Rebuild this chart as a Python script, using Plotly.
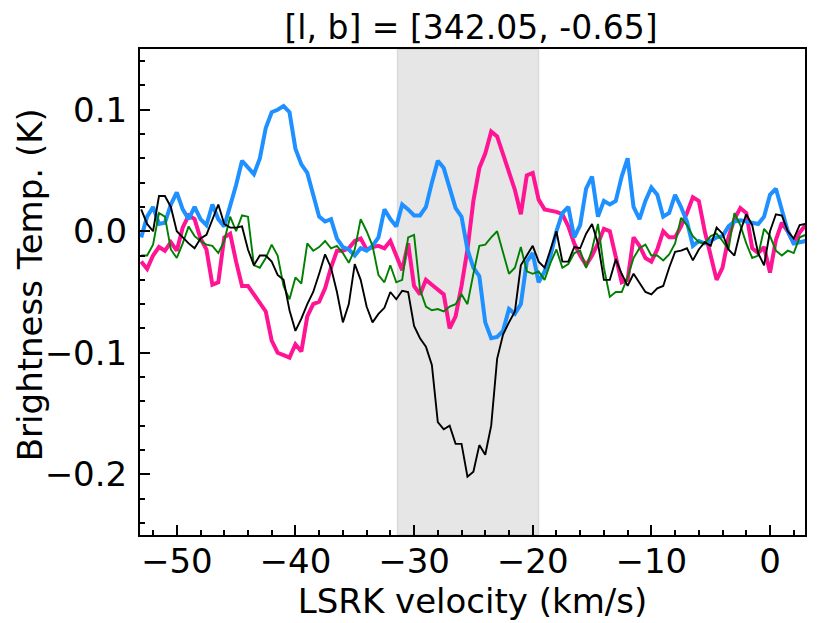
import plotly.graph_objects as go

velocity = [
    -53.0, -52.5, -52.0, -51.5, -51.0, -50.5, -50.0, -49.5, -49.0, -48.5,
    -48.0, -47.5, -47.0, -46.5, -46.0, -45.5, -45.0, -44.5, -44.0, -43.5,
    -43.0, -42.5, -42.0, -41.5, -41.0, -40.5, -40.0, -39.5, -39.0, -38.5,
    -38.0, -37.5, -37.0, -36.5, -36.0, -35.5, -35.0, -34.5, -34.0, -33.5,
    -33.0, -32.5, -32.0, -31.5, -31.0, -30.5, -30.0, -29.5, -29.0, -28.5,
    -28.0, -27.5, -27.0, -26.5, -26.0, -25.5, -25.0, -24.5, -24.0, -23.5,
    -23.0, -22.5, -22.0, -21.5, -21.0, -20.5, -20.0, -19.5, -19.0, -18.5,
    -18.0, -17.5, -17.0, -16.5, -16.0, -15.5, -15.0, -14.5, -14.0, -13.5,
    -13.0, -12.5, -12.0, -11.5, -11.0, -10.5, -10.0, -9.5, -9.0, -8.5,
    -8.0, -7.5, -7.0, -6.5, -6.0, -5.5, -5.0, -4.5, -4.0, -3.5,
    -3.0, -2.5, -2.0, -1.5, -1.0, -0.5, 0.0, 0.5, 1.0, 1.5, 2.0, 2.5, 3.0,
]

blue_temp = [
    -0.005, 0.012, 0.020, 0.006, 0.007, 0.022, 0.032, 0.018, 0.010, 0.020,
    0.010, 0.005, 0.022, 0.010, 0.004, 0.020, 0.038, 0.058, 0.052, 0.047,
    0.060, 0.085, 0.098, 0.100, 0.103, 0.098, 0.068, 0.055, 0.048, 0.030,
    0.012, 0.008, 0.010, -0.006, -0.013, -0.015, -0.020, -0.014, -0.016, -0.012,
    -0.005, 0.018, 0.010, 0.004, 0.022, 0.018, 0.013, 0.013, 0.020, 0.040,
    0.058, 0.052, 0.035, 0.019, 0.012, -0.015, -0.030, -0.037, -0.075, -0.088,
    -0.087, -0.082, -0.064, -0.068, -0.060, -0.025, -0.018, -0.042, -0.033, -0.020,
    0.000, 0.015, 0.020, -0.005, 0.005, 0.035, 0.045, 0.012, 0.025, 0.022,
    0.025, 0.045, 0.060, 0.020, 0.010, 0.025, 0.036, 0.030, 0.012, 0.015,
    0.030, 0.020, 0.008, -0.012, -0.008, -0.010, -0.008, -0.005, -0.004, 0.004,
    0.008, 0.009, 0.008, 0.007, 0.006, 0.012, 0.030, 0.035, 0.018, 0.000, -0.010, -0.009, -0.008,
]

pink_temp = [
    -0.025, -0.031, -0.020, -0.013, -0.016, -0.009, -0.016, 0.003, 0.013, 0.010,
    -0.006, -0.015, -0.044, -0.042, -0.005, -0.002, -0.025, -0.045, -0.045, -0.052,
    -0.058, -0.066, -0.090, -0.100, -0.102, -0.104, -0.093, -0.099, -0.070, -0.060,
    -0.058, -0.047, -0.030, -0.016, -0.016, -0.014, -0.008, -0.006, -0.015, -0.013,
    -0.012, -0.014, -0.008, -0.020, -0.032, -0.010, -0.045, -0.052, -0.040, -0.044,
    -0.048, -0.052, -0.080, -0.070, -0.045, -0.015, 0.025, 0.052, 0.064, 0.082,
    0.078, 0.064, 0.049, 0.034, 0.014, 0.046, 0.048, 0.026, 0.018, 0.017,
    0.016, 0.014, 0.004, -0.010, -0.020, -0.028, -0.020, -0.010, 0.002, 0.000,
    -0.020, -0.042, -0.040, -0.005, -0.012, -0.022, -0.025, -0.015, 0.000, -0.005,
    -0.005, 0.004, 0.015, 0.028, 0.025, 0.000, -0.020, -0.040, -0.030, -0.005,
    0.010, 0.019, 0.015, -0.014, -0.018, -0.013, -0.034, -0.007, 0.007, 0.000, -0.010, -0.001, 0.005,
]

green_temp = [
    -0.020, -0.020, -0.011, 0.015, 0.012, -0.015, -0.022, -0.010, 0.004, -0.004,
    -0.008, -0.011, -0.012, -0.018, -0.008, 0.012, 0.000, 0.013, 0.012, -0.028,
    -0.030, -0.022, -0.011, -0.020, -0.045, -0.056, -0.038, -0.043, -0.010, -0.016,
    -0.013, -0.008, -0.014, -0.012, -0.018, -0.026, -0.015, 0.010, 0.000, -0.012,
    -0.036, -0.042, -0.028, -0.042, -0.040, -0.005, -0.003, -0.048, -0.062, -0.065,
    -0.064, -0.066, -0.062, -0.060, -0.052, -0.060, -0.035, -0.012, -0.011, -0.005,
    0.000, -0.018, -0.035, -0.030, -0.013, -0.033, -0.035, -0.033, -0.040, -0.026,
    -0.015, -0.030, -0.027, -0.018, -0.016, -0.030, -0.015, 0.006, -0.030, -0.054,
    -0.050, -0.050, -0.038, -0.022, -0.014, -0.011, -0.020, -0.020, -0.024, -0.019,
    -0.010, 0.011, 0.005, -0.004, -0.009, -0.010, -0.004, -0.002, -0.008, -0.015,
    0.015, 0.005, -0.010, -0.022, -0.020, 0.002, -0.004, -0.016, -0.020, -0.016, -0.018, -0.005, -0.003,
]

black_temp = [
    0.018, 0.006, 0.000, 0.029, 0.029, 0.020, 0.000, -0.005, -0.010, -0.014,
    -0.006, -0.003, 0.010, 0.022, 0.006, 0.003, 0.003, 0.004, -0.015, -0.028,
    -0.020, -0.020, -0.025, -0.036, -0.040, -0.065, -0.082, -0.072, -0.060, -0.050,
    -0.035, -0.019, -0.030, -0.050, -0.075, -0.060, -0.027, -0.040, -0.062, -0.075,
    -0.068, -0.063, -0.050, -0.056, -0.049, -0.050, -0.078, -0.088, -0.095, -0.110,
    -0.157, -0.163, -0.160, -0.175, -0.175, -0.202, -0.198, -0.176, -0.184, -0.160,
    -0.105, -0.085, -0.075, -0.066, -0.028, -0.020, -0.012, -0.025, -0.030, -0.015,
    0.000, -0.025, -0.025, -0.013, -0.014, -0.002, 0.006, -0.010, -0.040, -0.040,
    -0.023, -0.035, -0.045, -0.035, -0.042, -0.050, -0.052, -0.047, -0.045, -0.030,
    -0.017, -0.016, -0.014, -0.024, -0.015, -0.009, -0.012, 0.003, -0.002, -0.015,
    -0.020, 0.000, 0.014, 0.005, -0.018, -0.028, 0.000, 0.014, 0.013, 0.000, -0.006, 0.005, 0.006,
]

band = [-31.4, -19.5]
title_text = "[l, b] = [342.05, -0.65]"
x_label = "LSRK velocity (km/s)"
y_label = "Brightness Temp. (K)"

FONT = "DejaVu Sans"

fig = go.Figure()
fig.add_trace(go.Scatter(x=velocity, y=pink_temp, mode="lines",
                         line=dict(color="#ff1493", width=4), showlegend=False))
fig.add_trace(go.Scatter(x=velocity, y=blue_temp, mode="lines",
                         line=dict(color="#1e90ff", width=4), showlegend=False))
fig.add_trace(go.Scatter(x=velocity, y=green_temp, mode="lines",
                         line=dict(color="#008000", width=1.9), showlegend=False))
fig.add_trace(go.Scatter(x=velocity, y=black_temp, mode="lines",
                         line=dict(color="#000000", width=1.9), showlegend=False))

fig.add_vrect(x0=band[0], x1=band[1], fillcolor="rgba(128,128,128,0.2)",
              line=dict(color="rgba(128,128,128,0.2)", width=1.5), layer="below")

axis_common = dict(
    showline=True, linecolor="black", linewidth=2, mirror=True,
    showgrid=False, zeroline=False, automargin=False,
    ticks="inside", ticklen=10, tickwidth=1.5, tickcolor="black",
    tickfont=dict(family=FONT, size=34, color="black"),
)

fig.update_xaxes(**axis_common, range=[-53.1, 2.95], dtick=10, tick0=0,
                 ticklabelstandoff=-5,
                 minor=dict(ticks="inside", ticklen=5, tickwidth=1.5, dtick=2,
                            tick0=0, tickcolor="black"),
                 title=dict(text=x_label, font=dict(family=FONT, size=34, color="black"),
                            standoff=3))
fig.update_yaxes(**axis_common, range=[-0.25, 0.15], dtick=0.1, tick0=0,
                 tickformat=".1f", ticklabelstandoff=4,
                 minor=dict(ticks="inside", ticklen=5, tickwidth=1.5, dtick=0.02,
                            tick0=0, tickcolor="black"))

fig.add_annotation(text=y_label, xref="paper", yref="paper", x=-0.1654, y=0.514,
                   xanchor="center", yanchor="middle", textangle=-90, showarrow=False,
                   font=dict(family=FONT, size=34, color="black"))

fig.update_layout(
    width=822, height=615,
    margin=dict(l=132, r=25, t=41, b=88),
    paper_bgcolor="white", plot_bgcolor="white",
    title=dict(text=title_text, x=0.5633, xanchor="center", y=0.968, yanchor="middle",
               font=dict(family=FONT, size=33, color="black")),
)

fig.write_html("out.html")
